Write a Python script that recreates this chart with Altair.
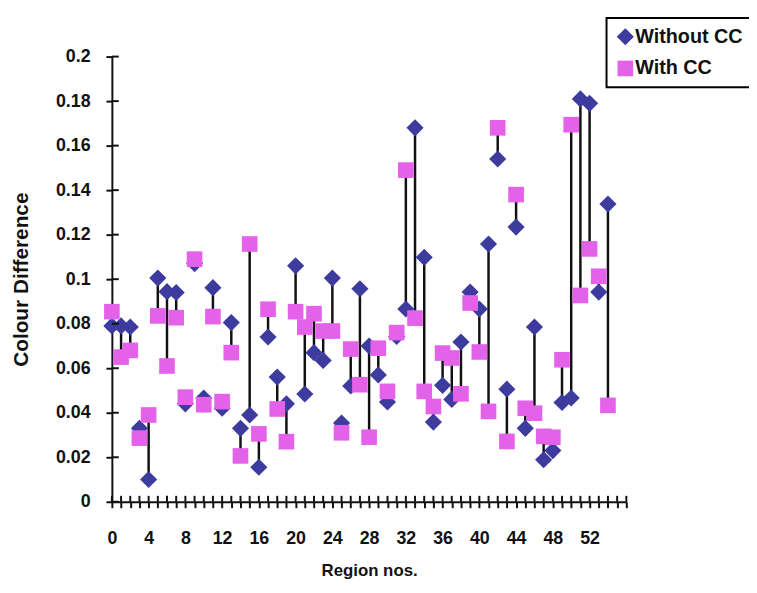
import altair as alt
import pandas as pd

regions = list(range(55))
without_cc = [0.079, 0.079, 0.0785, 0.033, 0.010, 0.1005, 0.0944, 0.094, 0.044, 0.107,
              0.0466, 0.0962, 0.042, 0.0805, 0.033, 0.039, 0.0155, 0.074, 0.056, 0.044,
              0.106, 0.0484, 0.067, 0.0635, 0.1005, 0.0354, 0.052, 0.0957, 0.070, 0.057,
              0.0448, 0.0743, 0.0866, 0.168, 0.1098, 0.0358, 0.0523, 0.046, 0.0718, 0.0942,
              0.0866, 0.1158, 0.154, 0.0506, 0.1234, 0.033, 0.0785, 0.0189, 0.023, 0.0446,
              0.0466, 0.181, 0.179, 0.0942, 0.1338]
with_cc = [0.0854, 0.065, 0.068, 0.0286, 0.039, 0.0835, 0.061, 0.0827, 0.047, 0.109,
           0.0436, 0.0832, 0.045, 0.067, 0.0206, 0.1158, 0.0305, 0.0865, 0.0417, 0.027,
           0.0854, 0.0785, 0.0845, 0.0767, 0.0767, 0.031, 0.0686, 0.0526, 0.029, 0.069,
           0.0496, 0.076, 0.149, 0.0825, 0.0496, 0.0428, 0.0668, 0.0646, 0.0485, 0.0893,
           0.0673, 0.0406, 0.168, 0.0271, 0.138, 0.042, 0.0398, 0.0294, 0.029, 0.0638,
           0.1694, 0.0927, 0.1136, 0.1013, 0.0433]

series_names = ["Without CC", "With CC"]
series_colors = ["#3d3b9e", "#e462ea"]
series_shapes = ["diamond", "square"]
series_sizes = [300, 250]

x_tick_values = list(range(0, 57))
x_label_values = [0, 4, 8, 12, 16, 20, 24, 28, 32, 36, 40, 44, 48, 52]
y_tick_values = [0, 0.02, 0.04, 0.06, 0.08, 0.1, 0.12, 0.14, 0.16, 0.18, 0.2]

W, H = 520, 450
FONT = "Liberation Sans"

pairs = pd.DataFrame({"region": regions, "without": without_cc, "with": with_cc})
long = pd.concat([
    pd.DataFrame({"region": regions, "value": without_cc, "series": series_names[0]}),
    pd.DataFrame({"region": regions, "value": with_cc, "series": series_names[1]}),
], ignore_index=True)

xscale = alt.Scale(domain=[0, 56], nice=False, zero=False)
yscale = alt.Scale(domain=[0, 0.2], nice=False)

label_test = " || ".join(f"datum.value == {v}" for v in x_label_values)
xaxis = alt.Axis(values=x_tick_values, title="Region nos.",
                 labelExpr=f"({label_test}) ? datum.label : ''",
                 labelPadding=22, titlePadding=16, grid=False, labelFlush=False,
                 labelOverlap=False, labelFontSize=18, titleFontSize=17)
yaxis = alt.Axis(values=y_tick_values, title="Colour Difference", format=".2~f",
                 labelPadding=16, titlePadding=24, grid=False, labelOverlap=False,
                 labelFontSize=18, titleFontSize=21)

legend = alt.Legend(
    title=None, orient="none", legendX=500, legendY=-39,
    labelFont=FONT, labelFontSize=20, labelFontWeight="bold", labelColor="#111111",
    symbolSize=256, symbolStrokeWidth=0, symbolOpacity=1, labelOffset=0,
    rowPadding=12, padding=9, strokeColor="black",
)

rules = alt.Chart(pairs).mark_rule(color="#111111", strokeWidth=2.5).encode(
    x=alt.X("region:Q", scale=xscale, axis=xaxis),
    y=alt.Y("without:Q", scale=yscale, axis=yaxis),
    y2="with:Q",
)

points = alt.Chart(long).mark_point(filled=True, opacity=1, strokeWidth=0).encode(
    x=alt.X("region:Q", scale=xscale, axis=xaxis),
    y=alt.Y("value:Q", scale=yscale, axis=yaxis),
    color=alt.Color("series:N", scale=alt.Scale(domain=series_names, range=series_colors), legend=legend),
    shape=alt.Shape("series:N", scale=alt.Scale(domain=series_names, range=series_shapes), legend=legend),
    size=alt.Size("series:N", scale=alt.Scale(domain=series_names, range=series_sizes), legend=None),
    order=alt.Order("ord:Q"),
).transform_calculate(ord="datum.series == 'Without CC' ? 0 : 1")

x_in_ticks = alt.Chart(pd.DataFrame({"t": x_tick_values})).mark_rule(color="#111111", strokeWidth=2).encode(
    x=alt.X("t:Q", scale=xscale, axis=xaxis),
    y=alt.value(H),
    y2=alt.value(H - 6),
)
y_in_ticks = alt.Chart(pd.DataFrame({"t": y_tick_values})).mark_rule(color="#111111", strokeWidth=2).encode(
    y=alt.Y("t:Q", scale=yscale, axis=yaxis),
    x=alt.value(0),
    x2=alt.value(7),
)

chart = alt.layer(rules, points, x_in_ticks, y_in_ticks).properties(
    width=W, height=H,
    autosize=alt.AutoSizeParams(type="none"),
    padding={"left": 105, "top": 46, "right": 124, "bottom": 80},
).configure_view(stroke=None).configure_axis(
    domainColor="#111111", domainWidth=2, tickColor="#111111", tickWidth=2, tickSize=6,
    labelFont=FONT, labelFontWeight="bold", labelColor="#111111", labelOverlap=False,
    titleFont=FONT, titleFontWeight="bold", titleColor="#111111",
).configure_legend(strokeWidth=2)

chart.save("out.html", embed_options={"renderer": "svg", "actions": False})
